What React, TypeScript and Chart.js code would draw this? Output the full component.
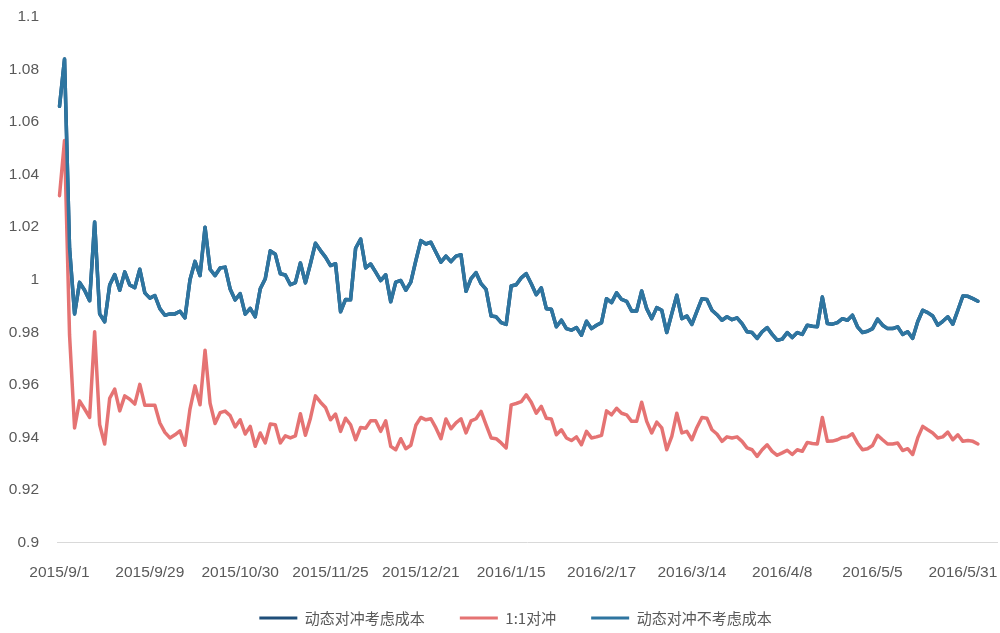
import { useEffect, useRef } from "react";
import { Chart, registerables } from "chart.js";

Chart.register(...registerables);

// Trading days of the sample, month by month
const tradingDays: [string, number[]][] = [
  ["2015/9", [1, 2, 7, 8, 9, 10, 11, 14, 15, 16, 17, 18, 21, 22, 23, 24, 25, 28, 29, 30]],
  ["2015/10", [8, 9, 12, 13, 14, 15, 16, 19, 20, 21, 22, 23, 26, 27, 28, 29, 30]],
  ["2015/11", [2, 3, 4, 5, 6, 9, 10, 11, 12, 13, 16, 17, 18, 19, 20, 23, 24, 25, 26, 27, 30]],
  ["2015/12", [1, 2, 3, 4, 7, 8, 9, 10, 11, 14, 15, 16, 17, 18, 21, 22, 23, 24, 25, 28, 29, 30, 31]],
  ["2016/1", [4, 5, 6, 7, 8, 11, 12, 13, 14, 15, 18, 19, 20, 21, 22, 25, 26, 27, 28, 29]],
  ["2016/2", [1, 2, 3, 4, 5, 15, 16, 17, 18, 19, 22, 23, 24, 25, 26, 29]],
  ["2016/3", [1, 2, 3, 4, 7, 8, 9, 10, 11, 14, 15, 16, 17, 18, 21, 22, 23, 24, 25, 28, 29, 30, 31]],
  ["2016/4", [1, 5, 6, 7, 8, 11, 12, 13, 14, 15, 18, 19, 20, 21, 22, 25, 26, 27, 28, 29]],
  ["2016/5", [3, 4, 5, 6, 9, 10, 11, 12, 13, 16, 17, 18, 19, 20, 23, 24, 25, 26, 27, 30, 31]],
  ["2016/6", [1, 2, 3]],
];

// Dates shown under the x axis
const tickDates = [
  "2015/9/1", "2015/9/29", "2015/10/30", "2015/11/25", "2015/12/21", "2016/1/15",
  "2016/2/17", "2016/3/14", "2016/4/8", "2016/5/5", "2016/5/31",
];

// Net value: dynamic hedge, costs ignored
const dynamicNoCost = [
  1.066, 1.084, 1.012, 0.987, 0.999, 0.996, 0.992, 1.022, 0.987, 0.984,
  0.998, 1.002, 0.996, 1.003, 0.998, 0.997, 1.004, 0.995, 0.993, 0.994,
  0.989, 0.9865, 0.987, 0.987, 0.988, 0.9855, 1.0, 1.007, 1.0016, 1.02,
  1.004, 1.0016, 1.0045, 1.0048, 0.9965, 0.9923, 0.9947, 0.9869, 0.9891, 0.9859,
  0.9966, 1.0004, 1.011, 1.0097, 1.0023, 1.0018, 0.9981, 0.9989, 1.0064, 0.9988,
  1.0061, 1.0139, 1.0111, 1.0086, 1.0054, 1.0061, 0.9878, 0.9925, 0.9924, 1.012,
  1.0155, 1.0045, 1.006, 1.0029, 0.9997, 1.0019, 0.9916, 0.9991, 0.9997, 0.996,
  0.9991, 1.0073, 1.0149, 1.0136, 1.0143, 1.0105, 1.0067, 1.009, 1.0069, 1.009,
  1.0095, 0.9956, 1.0004, 1.0027, 0.9985, 0.9963, 0.9862, 0.9859, 0.9837, 0.983,
  0.9976, 0.9981, 1.0007, 1.0023, 0.9985, 0.9943, 0.9969, 0.989, 0.9888, 0.9821,
  0.9846, 0.9814, 0.9808, 0.9818, 0.9789, 0.9842, 0.9814, 0.9827, 0.9837, 0.9928,
  0.9913, 0.995, 0.9925, 0.9918, 0.9881, 0.9881, 0.9957, 0.989, 0.9852, 0.9894,
  0.9884, 0.9799, 0.9871, 0.9941, 0.9852, 0.9862, 0.983, 0.988, 0.9928, 0.9925,
  0.9884, 0.9867, 0.9846, 0.9859, 0.9848, 0.9855, 0.9833, 0.9802, 0.9799, 0.9777,
  0.9802, 0.9818, 0.9792, 0.977, 0.9774, 0.9799, 0.978, 0.9799, 0.9792, 0.9827,
  0.9823, 0.9821, 0.9934, 0.9833, 0.9831, 0.9837, 0.9852, 0.9846, 0.9865, 0.9821,
  0.9799, 0.9804, 0.9814, 0.985, 0.9827, 0.9814, 0.9814, 0.9821, 0.9792, 0.9802,
  0.9777, 0.984, 0.9884, 0.9875, 0.9862, 0.9827, 0.9842, 0.9859, 0.9831, 0.9884,
  0.9938, 0.9937, 0.9928, 0.9918,
];

// Net value: dynamic hedge with costs (runs underneath the cost-free curve)
const dynamicWithCost = dynamicNoCost;

// Net value: 1:1 hedge
const oneToOne = [
  1.032, 1.053, 0.979, 0.9436, 0.9539, 0.9508, 0.9476, 0.9802, 0.9448, 0.9375,
  0.9549, 0.9584, 0.9501, 0.9558, 0.9545, 0.9527, 0.9602, 0.9522, 0.9522, 0.9522,
  0.9455, 0.9419, 0.9398, 0.941, 0.9425, 0.937, 0.9508, 0.9596, 0.9524, 0.9732,
  0.953, 0.9453, 0.9494, 0.95, 0.9483, 0.944, 0.9467, 0.9413, 0.9442, 0.9366,
  0.9417, 0.9379, 0.9451, 0.9448, 0.9379, 0.9406, 0.9398, 0.9406, 0.949, 0.9408,
  0.9473, 0.9558, 0.9534, 0.9514, 0.9467, 0.9489, 0.9423, 0.9473, 0.9448, 0.9391,
  0.9438, 0.9435, 0.9463, 0.9463, 0.9423, 0.9463, 0.9366, 0.9353, 0.9395, 0.9357,
  0.937, 0.9446, 0.9476, 0.9467, 0.9471, 0.9436, 0.9395, 0.947, 0.9433, 0.9455,
  0.9471, 0.9417, 0.9463, 0.9471, 0.9499, 0.9448, 0.9398, 0.9395, 0.9379, 0.936,
  0.9524, 0.9529, 0.9536, 0.9562, 0.9534, 0.9492, 0.9518, 0.9473, 0.947, 0.941,
  0.9429, 0.9398, 0.9388, 0.9402, 0.9372, 0.9423, 0.9398, 0.9402, 0.9408, 0.9501,
  0.9486, 0.9511, 0.9492, 0.9486, 0.9461, 0.9461, 0.9534, 0.9461, 0.9417, 0.9458,
  0.9436, 0.9353, 0.9404, 0.9492, 0.9417, 0.9423, 0.9391, 0.9438, 0.9476, 0.9473,
  0.9429, 0.9413, 0.9385, 0.9402, 0.9398, 0.9402, 0.9385, 0.936, 0.9353, 0.9328,
  0.9353, 0.9372, 0.9347, 0.9332, 0.9341, 0.9351, 0.9335, 0.9353, 0.9347, 0.9381,
  0.9377, 0.9375, 0.9476, 0.9385, 0.9386, 0.9391, 0.94, 0.9402, 0.9414, 0.9379,
  0.9353, 0.9357, 0.9369, 0.9408, 0.9391, 0.9375, 0.9375, 0.9379, 0.935, 0.9357,
  0.9335, 0.9398, 0.9442, 0.9429, 0.9417, 0.9398, 0.9402, 0.942, 0.9391, 0.941,
  0.9385, 0.9388, 0.9385, 0.9375,
];

const NAVY = "#1f4e79";
const SALMON = "#e57373";
const STEEL = "#2e75a0";
const TEXT = "#595959";

const dates = tradingDays.flatMap(([month, days]) => days.map((d) => `${month}/${d}`));
const points = (values: number[]) => values.map((y, x) => ({ x, y }));

// Nudges the bottom legend right and up after layout, without touching the plot area
const legendNudge = {
  id: "legendNudge",
  afterLayout(chart: any) {
    const lg = chart.legend;
    if (!lg) return;
    lg.left += 17;
    lg.right += 17;
    lg.top -= 12;
    lg.bottom -= 12;
  },
};

export default function App() {
  const canvasRef = useRef<HTMLCanvasElement | null>(null);

  useEffect(() => {
    const canvas = canvasRef.current;
    if (!canvas) return;

    const line = (label: string, values: number[], color: string, order: number) => ({
      label,
      data: points(values),
      order,
      borderColor: color,
      backgroundColor: color,
      borderWidth: 3.5,
      pointRadius: 0,
      tension: 0,
      borderJoinStyle: "round" as const,
      borderCapStyle: "round" as const,
    });

    const chart = new Chart(canvas, {
      type: "line",
      data: {
        datasets: [
          line("动态对冲考虑成本", dynamicWithCost, NAVY, 2),
          line("1:1对冲", oneToOne, SALMON, 1),
          line("动态对冲不考虑成本", dynamicNoCost, STEEL, 0),
        ],
      },
      plugins: [legendNudge],
      options: {
        animation: false,
        responsive: true,
        maintainAspectRatio: false,
        layout: { padding: { left: 0, right: 3, top: 17, bottom: -14.5 } },
        plugins: {
          tooltip: { enabled: false },
          legend: {
            position: "bottom",
            labels: {
              boxWidth: 38,
              boxHeight: 3,
              padding: 35,
              color: TEXT,
              font: { size: 15, family: "'Noto Sans CJK SC', 'Liberation Sans', sans-serif" },
              sort: (a: any, b: any) => a.datasetIndex - b.datasetIndex,
              generateLabels: (c: Chart) =>
                Chart.defaults.plugins.legend.labels
                  .generateLabels(c)
                  .map((item: any) => ({ ...item, lineWidth: 0, fillStyle: item.strokeStyle })),
            },
          },
        },
        scales: {
          x: {
            type: "linear",
            min: -0.5,
            max: 186.8,
            grid: { display: false },
            border: { display: true, color: "#d9d9d9", width: 1 },
            afterFit: (scale: any) => {
              scale.height = 45;
              scale.paddingLeft = 0;
              scale.paddingRight = 0;
            },
            afterBuildTicks: (scale: any) => {
              scale.ticks = tickDates.map((d) => ({ value: dates.indexOf(d) }));
            },
            ticks: {
              autoSkip: false,
              maxRotation: 0,
              padding: 13,
              color: TEXT,
              font: { size: 15.5, family: "'Liberation Sans', Arial, sans-serif" },
              callback: (v: any) => dates[Number(v)] ?? "",
            },
          },
          y: {
            min: 0.9,
            max: 1.1,
            grid: { display: false },
            border: { display: false },
            afterFit: (scale: any) => {
              scale.width = 57;
              scale.paddingTop = 0;
              scale.paddingBottom = 0;
            },
            ticks: {
              stepSize: 0.02,
              padding: 10,
              color: TEXT,
              font: { size: 15.5, family: "'Liberation Sans', Arial, sans-serif" },
              callback: (v: any) => String(parseFloat(Number(v).toFixed(2))),
            },
          },
        },
      },
    });

    return () => chart.destroy();
  }, []);

  return (
    <div style={{ position: "fixed", left: 0, top: 0, width: 1000, height: 633, background: "#fff" }}>
      <canvas ref={canvasRef} />
    </div>
  );
}
